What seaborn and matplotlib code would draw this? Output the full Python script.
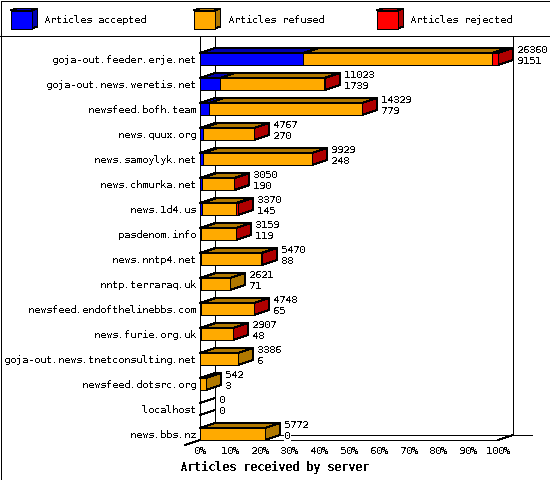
import numpy as np
import pandas as pd
import matplotlib.pyplot as plt
import seaborn as sns
from matplotlib.patches import Polygon, Rectangle

servers = ['goja-out.feeder.erje.net', 'goja-out.news.weretis.net', 'newsfeed.bofh.team',
           'news.quux.org', 'news.samoylyk.net', 'news.chmurka.net', 'news.1d4.us',
           'pasdenom.info', 'news.nntp4.net', 'nntp.terraraq.uk', 'newsfeed.endofthelinebbs.com',
           'news.furie.org.uk', 'goja-out.news.tnetconsulting.net', 'newsfeed.dotsrc.org',
           'localhost', 'news.bbs.nz']
accepted = [9151, 1739, 779, 270, 248, 190, 145, 119, 88, 71, 65, 48, 6, 3, 0, 0]
refused = [16709, 9244, 13530, 4487, 9651, 2850, 3005, 3030, 5352, 2550, 4678, 2854, 3380, 539, 0, 5772]
rejected = [500, 40, 20, 10, 30, 10, 220, 10, 30, 0, 5, 5, 0, 0, 0, 0]
pct_ticks = [0, 10, 20, 30, 40, 50, 60, 70, 80, 90, 100]

FRONT = {'accepted': '#0000ff', 'refused': '#ffaa00', 'rejected': '#ff0000'}
SHADE = {'accepted': '#0000b0', 'refused': '#b07800', 'rejected': '#b00000'}
LW = 0.72  # one pixel at 100 dpi

sns.set_style('white')
plt.rcParams['font.family'] = ['DejaVu Sans Mono']
plt.rcParams['text.antialiased'] = False
plt.rcParams['patch.antialiased'] = False
plt.rcParams['lines.antialiased'] = False
plt.rcParams['text.hinting'] = 'native'
plt.rcParams['text.hinting_factor'] = 1

df = pd.DataFrame({'server': servers, 'accepted': accepted, 'refused': refused, 'rejected': rejected})
df['total'] = df['accepted'] + df['refused'] + df['rejected']
scale = 100 / df['total'].max()
df['p_acc'] = df['accepted'] * scale
df['p_ref'] = (df['accepted'] + df['refused']) * scale
df['p_tot'] = df['total'] * scale

fig = plt.figure(figsize=(5.5, 4.8), dpi=100)
ax = fig.add_axes([200 / 550, 40 / 480, 298 / 550, 404 / 480])

# stacked by overdrawing, longest first
for col, name in [('p_tot', 'rejected'), ('p_ref', 'refused'), ('p_acc', 'accepted')]:
    sns.barplot(data=df, y='server', x=col, color=FRONT[name], saturation=1, width=0.48,
                edgecolor='black', linewidth=LW, orient='h', ax=ax, zorder=5)

ax.set_xlim(0, 100)
ax.set_ylim(15.24, -0.92)
ax.set_xlabel('')
ax.set_ylabel('')
ax.grid(False)
sns.despine(ax=ax)
for s in ['left', 'bottom']:
    ax.spines[s].set_color('black')
    ax.spines[s].set_linewidth(LW)
    ax.spines[s].set_zorder(6)

px = 100 / 298  # data units per pixel in x
dx = 15 * px
dy = 5 / 25

ax.set_xticks(pct_ticks)
ax.set_xticklabels([f'{t}%' for t in pct_ticks], fontsize=7.2, color='black')
ax.tick_params(axis='x', length=0, pad=4.5)
ax.tick_params(axis='y', length=0, pad=2.9, labelsize=7.2, labelcolor='black')

# the depth faces, taken from the bars seaborn drew
tot_bars, ref_bars, acc_bars = ax.containers[0], ax.containers[1], ax.containers[2]
for i in range(len(servers)):
    tb = tot_bars[i]
    top = tb.get_y()
    bot = top + tb.get_height()
    a, r, t = acc_bars[i].get_width(), ref_bars[i].get_width(), tb.get_width()
    if t == 0:
        # empty server: only the two edges of the flat box show
        for e in [top, bot]:
            ax.plot([0, dx], [e, e - dy], color='black', lw=LW, clip_on=False, zorder=4)
        tb.set_visible(False)
        ref_bars[i].set_visible(False)
        acc_bars[i].set_visible(False)
    else:
        spans = [(0, a, 'accepted'), (a, r, 'refused'), (r, t, 'rejected')]
        last = 'refused'
        for x0, x1, name in spans:
            if x1 > x0:
                last = name
                ax.add_patch(Polygon([(x0, top), (x0 + dx, top - dy), (x1 + dx, top - dy), (x1, top)],
                                     facecolor=SHADE[name], edgecolor='black', lw=LW, zorder=4, clip_on=False))
        ax.add_patch(Polygon([(t, top), (t + dx, top - dy), (t + dx, bot - dy), (t, bot)],
                             facecolor=SHADE[last], edgecolor='black', lw=LW, zorder=4, clip_on=False))
    lx = t + dx + 4 * px
    ax.text(lx, i - 9 / 25, str(df['total'][i]), fontsize=7.2, va='center', ha='left', color='black',
            zorder=7, clip_on=False, bbox=dict(fc='white', ec='none', pad=0.5))
    ax.text(lx, i + 2 / 25, str(df['accepted'][i]), fontsize=7.2, va='center', ha='left', color='black',
            zorder=7, clip_on=False, bbox=dict(fc='white', ec='none', pad=0.5))

# back walls and floor
y_top, y_front = -0.92, 15.24
y_back = y_front - dy
wall = dict(color='black', lw=LW, clip_on=False, zorder=2)
ax.plot([dx, dx], [y_top, y_back], **wall)
ax.plot([100 + dx, 100 + dx], [y_top, y_back], **wall)
ax.plot([dx, 100 + 34 * px], [y_back, y_back], **wall)
ax.plot([-dx, dx], [y_front + dy, y_back], **wall)
ax.plot([100, 100 + dx], [y_front, y_back], **wall)

# header, border and axis title in pixel coordinates
over = fig.add_axes([0, 0, 1, 1], zorder=10)
over.set_xlim(0, 550)
over.set_ylim(480, 0)
over.axis('off')
over.patch.set_alpha(0)
over.add_patch(Rectangle((0.5, 0.5), 549, 479, fill=False, ec='black', lw=LW))
over.plot([0, 550], [35.5, 35.5], color='black', lw=LW)

legend_x = [10.5, 193.5, 376.5]
legend_names = ['accepted', 'refused', 'rejected']
legend_labels = ['Articles accepted', 'Articles refused', 'Articles rejected']
for x, name, label in zip(legend_x, legend_names, legend_labels):
    over.add_patch(Polygon([(x, 10.5), (x + 6, 8.5), (x + 27, 8.5), (x + 21, 10.5)],
                           fc=SHADE[name], ec='black', lw=LW))
    over.add_patch(Polygon([(x + 21, 10.5), (x + 27, 8.5), (x + 27, 26.5), (x + 21, 28.5)],
                           fc=SHADE[name], ec='black', lw=LW))
    over.add_patch(Rectangle((x, 10.5), 21, 18, fc=FRONT[name], ec='black', lw=LW))
    over.text(x + 34, 20, label, fontsize=7.2, va='center', ha='left', color='black')

over.text(274, 467, 'Articles received by server', fontsize=8.4, fontweight='bold',
          ha='center', va='center', color='black')

fig.savefig('out.png', dpi=100)
